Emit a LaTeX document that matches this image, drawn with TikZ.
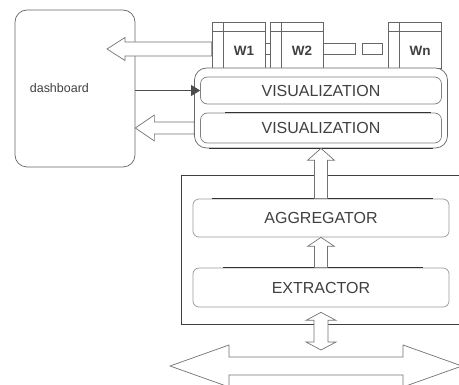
\documentclass[tikz,border=0pt]{standalone}
\usepackage{fontspec}
\setmainfont{Liberation Sans}
\usetikzlibrary{arrows.meta,calc}

\tikzset{
  panel/.style={draw=black!60, line width=0.7pt, rounded corners=12pt, fill=white, inner sep=0pt},
  layer/.style={draw=black!50, line width=0.7pt, rounded corners=7pt, fill=white, inner sep=0pt,
    font=\fontsize{16}{16}\selectfont, text=black!75},
  win/.style={draw=black!60, line width=0.7pt, fill=white, inner sep=0pt,
    minimum width=53pt, minimum height=46pt,
    path picture={
      \draw[black!60, line width=0.7pt]
        ([xshift=11pt]path picture bounding box.north west) -- ([xshift=11pt]path picture bounding box.south west)
        ([yshift=-9pt]path picture bounding box.north west) -- ([yshift=-9pt]path picture bounding box.north east);}},
  wtitle/.style={font=\bfseries\fontsize{13.5}{13.5}\selectfont, text=black!75, inner sep=0pt},
  link/.style={draw=black!60, line width=0.7pt, fill=white, minimum height=11pt, inner sep=0pt},
  hollow/.style={draw=black!55, line width=0.7pt, fill=white, line join=miter},
  rim/.style={black!80, line width=1.2pt},
}

% hollow block arrows: half shaft, half head, head length, from, to
\newcommand\blockarrow[5]{%
  \coordinate (ba) at ($(#5)!#3pt!(#4)$);
  \draw[hollow] ($(#4)!#1pt!90:(#5)$) -- ($(ba)!#1pt!90:(#5)$) -- ($(ba)!#2pt!90:(#5)$)
    -- (#5) -- ($(ba)!#2pt!-90:(#5)$) -- ($(ba)!#1pt!-90:(#5)$) -- ($(#4)!#1pt!-90:(#5)$) -- cycle;}
\newcommand\twinarrow[5]{%
  \coordinate (ba) at ($(#5)!#3pt!(#4)$);
  \coordinate (bb) at ($(#4)!#3pt!(#5)$);
  \draw[hollow] (#4) -- ($(bb)!#2pt!90:(#5)$) -- ($(bb)!#1pt!90:(#5)$) -- ($(ba)!#1pt!90:(#5)$)
    -- ($(ba)!#2pt!90:(#5)$) -- (#5) -- ($(ba)!#2pt!-90:(#5)$) -- ($(ba)!#1pt!-90:(#5)$)
    -- ($(bb)!#1pt!-90:(#5)$) -- ($(bb)!#2pt!-90:(#5)$) -- cycle;}

\begin{document}
\begin{tikzpicture}[x=1pt,y=-1pt]
    \useasboundingbox (0,0) rectangle (459,385);

    % dashboard
    \node[panel, minimum width=120pt, minimum height=157pt] (dash) at (75,88.5) {};
    \node[anchor=west, inner sep=0pt, font=\fontsize{12.5}{12.5}\selectfont, text=black!75]
      (dashlbl) at ([xshift=15pt]dash.west) {dashboard};

    % widgets
    \foreach \w/\x/\t in {w1/238.5/W1, w2/296.5/W2, wn/414.5/Wn}{
        \node[win] (\w) at (\x,45) {};
        \node[wtitle] (\w lbl) at ([shift={(5.5pt,-6pt)}]\w.center) {\t};
    }
    \node[link, minimum width=5pt] (l12) at (267.5,48.5) {};
    \node[link, minimum width=32pt] (dots1) at (339,48.5) {};
    \node[link, minimum width=20pt] (dots2) at (372,48.5) {};

    % visualization layer
    \node[panel, minimum width=253pt, minimum height=80pt] (vis) at (321,108) {};
    \node[layer, minimum width=241pt, minimum height=27pt] (vis1) at (321,90.5) {VISUALIZATION};
    \node[layer, minimum width=241pt, minimum height=30pt] (vis2) at (321,128) {VISUALIZATION};
    \draw[rim] ([xshift=15pt]vis.south west) -- ([xshift=-15pt]vis.south east);
    \draw[rim] ([xshift=25pt]vis2.north west) -- ([xshift=-11pt]vis2.north east);

    % backend
    \node[draw=black!75, line width=0.8pt, minimum width=290pt, minimum height=149pt] (core) at (326,249.5) {};
    \node[layer, draw=black!40, rounded corners=6pt, minimum width=256pt, minimum height=38pt] (agg) at (321,218) {AGGREGATOR};
    \node[layer, draw=black!40, rounded corners=6pt, minimum width=256pt, minimum height=39pt] (ext) at (321,287.5) {EXTRACTOR};
    \draw[rim] ([xshift=19pt]agg.north west) -- ([xshift=-16pt]agg.north east);
    \draw[rim] ([xshift=30pt]ext.north west) -- ([xshift=-26pt]ext.north east);

    % connectors
    \coordinate (wtail) at ([yshift=-4pt]w1.west);
    \coordinate (dtip) at (107,49);
    \blockarrow{7}{11.5}{18}{wtail}{dtip}
    \draw[black!70, line width=0.7pt, -{Triangle[length=9pt,width=11pt]}] (dash.east |- vis1.west) -- (vis1.west);
    \coordinate (vtail) at (vis.west |- vis2.west);
    \coordinate (vtip) at (dash.east |- vis2.west);
    \blockarrow{6}{13}{19}{vtail}{vtip}
    \blockarrow{6.5}{13.5}{12}{agg.north}{vis.south}
    \blockarrow{6.5}{13.5}{9}{ext.north}{agg.south}
    \coordinate (ptop) at ([yshift=-5pt]ext.south);
    \coordinate (pbot) at (321,350);
    \twinarrow{7}{15}{8}{ptop}{pbot}
    \coordinate (busl) at (170,366);
    \coordinate (busr) at (462,366);
    \twinarrow{9}{21}{59}{busl}{busr}
\end{tikzpicture}
\end{document}
